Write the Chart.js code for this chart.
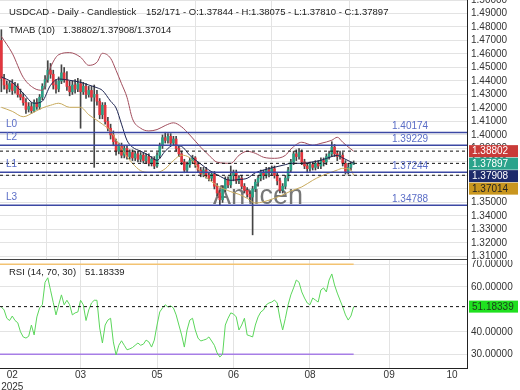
<!DOCTYPE html>
<html>
<head>
<meta charset="utf-8">
<title>USDCAD Daily</title>
<script src="https://cdn.jsdelivr.net/npm/chart.js@4.4.1/dist/chart.umd.min.js"></script>
<style>
  html, body { margin: 0; padding: 0; background: #fff; }
  #wrap { position: relative; width: 520px; height: 390px; overflow: hidden; font-family: "Liberation Sans", Arial, sans-serif; }
  canvas { display: block; position: absolute; left: 0; }
  #mainChart { top: 0; }
  #rsiChart { top: 260px; }
  .lbl { position: absolute; font-size: 9.5px; line-height: 12px; color: #222; white-space: nowrap; }
</style>
</head>
<body>
<div id="wrap">
  <canvas id="mainChart" width="520" height="260"></canvas>
  <canvas id="rsiChart" width="520" height="130"></canvas>
  <div class="lbl" style="left:9px;top:6px">USDCAD - Daily - Candlestick</div>
  <div class="lbl" style="left:146px;top:6px">152/171 - O:1.37844 - H:1.38075 - L:1.37810 - C:1.37897</div>
  <div class="lbl" style="left:9px;top:24px">TMAB (10)</div>
  <div class="lbl" style="left:63px;top:24px">1.38802/1.37908/1.37014</div>
  <div class="lbl" style="left:9px;top:266px">RSI (14, 70, 30)</div>
  <div class="lbl" style="left:85px;top:266px">51.18339</div>
</div>
<script>
// candles, one per slot index (visible part of the series)
const opens = [
  1.4700,1.4420,1.4370,1.4340,1.4380,1.4330,1.4360,1.4300,1.4280,1.4240,
  1.4190,1.4210,1.4180,1.4240,1.4210,1.4280,1.4360,1.4410,1.4480,1.4450,
  1.4370,1.4340,1.4400,1.4460,1.4410,1.4360,1.4320,1.4370,1.4340,1.4380,
  1.4320,1.4360,1.4300,1.4330,1.4280,1.4300,1.4250,1.4150,1.4220,1.4100,
  1.4050,1.4000,1.3950,1.3880,1.3920,1.3850,1.3900,1.3840,1.3870,1.3830,
  1.3860,1.3820,1.3850,1.3810,1.3840,1.3790,1.3820,1.3770,1.3850,1.3920,
  1.3980,1.3960,1.3990,1.3940,1.3970,1.3900,1.3860,1.3800,1.3740,1.3780,
  1.3810,1.3830,1.3780,1.3740,1.3710,1.3740,1.3700,1.3680,1.3710,1.3620,
  1.3570,1.3520,1.3600,1.3670,1.3630,1.3700,1.3720,1.3660,1.3680,1.3620,
  1.3590,1.3560,1.3540,1.3600,1.3650,1.3680,1.3720,1.3700,1.3740,1.3720,
  1.3750,1.3700,1.3660,1.3590,1.3620,1.3680,1.3740,1.3800,1.3860,1.3840,
  1.3870,1.3800,1.3770,1.3750,1.3780,1.3760,1.3790,1.3770,1.3810,1.3800,
  1.3840,1.3860,1.3910,1.3860,1.3840,1.3850,1.3790,1.3730,1.3760,1.37844
];
const highs = [
  1.4780,1.4450,1.4400,1.4400,1.4410,1.4390,1.4380,1.4340,1.4310,1.4270,
  1.4240,1.4240,1.4260,1.4270,1.4300,1.4380,1.4440,1.4550,1.4530,1.4480,
  1.4410,1.4430,1.4520,1.4500,1.4470,1.4400,1.4400,1.4410,1.4420,1.4410,
  1.4390,1.4380,1.4360,1.4360,1.4370,1.4330,1.4270,1.4240,1.4240,1.4130,
  1.4080,1.4030,1.3970,1.3940,1.3940,1.3920,1.3920,1.3890,1.3890,1.3880,
  1.3880,1.3870,1.3870,1.3860,1.3860,1.3840,1.3840,1.3870,1.3940,1.4000,
  1.4020,1.4010,1.4010,1.3990,1.3990,1.3920,1.3880,1.3820,1.3800,1.3830,
  1.3850,1.3840,1.3800,1.3760,1.3760,1.3760,1.3720,1.3730,1.3730,1.3640,
  1.3590,1.3620,1.3690,1.3690,1.3770,1.3740,1.3740,1.3700,1.3700,1.3640,
  1.3610,1.3580,1.3620,1.3670,1.3700,1.3740,1.3740,1.3760,1.3760,1.3770,
  1.3770,1.3720,1.3680,1.3640,1.3700,1.3760,1.3820,1.3880,1.3890,1.3900,
  1.3890,1.3820,1.3790,1.3800,1.3800,1.3810,1.3810,1.3830,1.3830,1.3860,
  1.3880,1.3950,1.3930,1.3880,1.3880,1.3870,1.3810,1.3790,1.3800,1.38075
];
const lows = [
  1.4320,1.4340,1.4310,1.4320,1.4300,1.4310,1.4280,1.4260,1.4220,1.4160,
  1.4170,1.4160,1.4170,1.4190,1.4190,1.4260,1.4340,1.4390,1.4420,1.4340,
  1.4310,1.4320,1.4380,1.4390,1.4330,1.4290,1.4300,1.4310,1.4320,1.4050,
  1.4300,1.4270,1.4280,1.4250,1.3760,1.4220,1.4120,1.4120,1.4080,1.4030,
  1.3970,1.3920,1.3850,1.3860,1.3830,1.3830,1.3820,1.3820,1.3810,1.3810,
  1.3800,1.3800,1.3790,1.3790,1.3770,1.3770,1.3750,1.3760,1.3830,1.3900,
  1.3940,1.3940,1.3920,1.3920,1.3880,1.3840,1.3780,1.3720,1.3720,1.3760,
  1.3790,1.3760,1.3720,1.3690,1.3690,1.3680,1.3660,1.3660,1.3600,1.3550,
  1.3480,1.3500,1.3580,1.3610,1.3610,1.3660,1.3640,1.3640,1.3600,1.3570,
  1.3540,1.3510,1.3260,1.3580,1.3620,1.3660,1.3670,1.3680,1.3690,1.3700,
  1.3680,1.3630,1.3570,1.3570,1.3600,1.3660,1.3720,1.3780,1.3810,1.3820,
  1.3780,1.3750,1.3720,1.3730,1.3740,1.3740,1.3750,1.3750,1.3770,1.3780,
  1.3820,1.3840,1.3840,1.3810,1.3820,1.3770,1.3710,1.3710,1.3740,1.37810
];
const closes = [
  1.4420,1.4370,1.4340,1.4380,1.4330,1.4360,1.4300,1.4280,1.4240,1.4190,
  1.4210,1.4180,1.4240,1.4210,1.4280,1.4360,1.4410,1.4480,1.4450,1.4370,
  1.4340,1.4400,1.4460,1.4410,1.4360,1.4320,1.4370,1.4340,1.4380,1.4320,
  1.4360,1.4300,1.4330,1.4280,1.4300,1.4250,1.4150,1.4220,1.4100,1.4050,
  1.4000,1.3950,1.3880,1.3920,1.3850,1.3900,1.3840,1.3870,1.3830,1.3860,
  1.3820,1.3850,1.3810,1.3840,1.3790,1.3820,1.3770,1.3850,1.3920,1.3980,
  1.3960,1.3990,1.3940,1.3970,1.3900,1.3860,1.3800,1.3740,1.3780,1.3810,
  1.3830,1.3780,1.3740,1.3710,1.3740,1.3700,1.3680,1.3710,1.3620,1.3570,
  1.3520,1.3600,1.3670,1.3630,1.3700,1.3720,1.3660,1.3680,1.3620,1.3590,
  1.3560,1.3540,1.3600,1.3650,1.3680,1.3720,1.3700,1.3740,1.3720,1.3750,
  1.3700,1.3660,1.3590,1.3620,1.3680,1.3740,1.3800,1.3860,1.3840,1.3870,
  1.3800,1.3770,1.3750,1.3780,1.3760,1.3790,1.3770,1.3810,1.3800,1.3840,
  1.3860,1.3910,1.3860,1.3840,1.3850,1.3790,1.3730,1.3760,1.3784,1.37897
];

// TMAB (10) bands, read at these slot indices
const bandIndex = [0,4,8,12,15,18,21,25,29,32,35,37,40,42,44,46,48,51,54,57,60,63,66,69,73,76,79,84,87,90,93,96,100,104,106,110,114,117,121,123,125,128,129];
const bandUpper = [1.4730,1.4605,1.4427,1.4346,1.4331,1.4502,1.4595,1.4610,1.4576,1.4516,1.4539,1.4605,1.4568,1.4479,1.4380,1.4279,1.4120,1.4050,1.4030,1.4040,1.4070,1.4090,1.4060,1.4000,1.3909,1.3850,1.3798,1.3790,1.3849,1.3879,1.3864,1.3835,1.3827,1.3849,1.3895,1.3946,1.3924,1.3938,1.3961,1.3983,1.3946,1.3895,1.38802];
const bandMiddle = [1.4430,1.4390,1.4309,1.4235,1.4250,1.4368,1.4415,1.4405,1.4390,1.4370,1.4350,1.4330,1.4250,1.4200,1.4080,1.3960,1.3910,1.3880,1.3849,1.3812,1.3880,1.3924,1.3915,1.3849,1.3785,1.3740,1.3705,1.3664,1.3670,1.3679,1.3720,1.3740,1.3761,1.3780,1.3790,1.3790,1.3800,1.3812,1.3840,1.3849,1.3830,1.3800,1.37908];
const bandLower = [1.4205,1.4175,1.4135,1.4170,1.4200,1.4220,1.4235,1.4205,1.4205,1.4150,1.4109,1.4080,1.4030,1.3965,1.3900,1.3840,1.3790,1.3735,1.3723,1.3723,1.3750,1.3810,1.3850,1.3830,1.3725,1.3670,1.3625,1.3580,1.3560,1.3531,1.3495,1.3505,1.3531,1.3565,1.3585,1.3615,1.3664,1.3695,1.3725,1.3740,1.3753,1.3740,1.37014];

const rsiValues = [
  51,49.7,46,45,47,45,44,40,37.7,37.2,
  38,43,38.6,46.6,50.6,52,62,64,58.5,53,
  47.5,52,56.4,52,54,52,47.5,48.4,48.8,54,
  52,45,49.7,52.8,54,54,41.7,35,43,45.2,
  46,35.5,29.7,34,36,34,32,32.4,33,34,
  35,34,34.5,36.3,35.5,33.2,36.3,43,48.8,50.6,
  52,51,51.5,50.6,47.5,43,38.6,33.2,40.8,45.2,
  46,40.8,37.2,35.9,36.3,36.7,37.7,35.9,34,30.6,
  28.8,30,43,46,48.4,47.9,46.6,40.8,43,46,
  38.6,38.2,37.7,43,46.6,48.8,49.7,52,52.8,53.2,
  54.1,52.8,46,40.8,46,52,56.4,59.5,63,62,
  57.7,55,52.8,52,55,54.1,53.2,58.6,59.5,57.7,
  63,65.7,60.8,57.2,54.1,51,47.5,45.2,47,51.18339
];
const rsiLast = 51.18339;
const rsiUpperLevel = 70;
const rsiLowerLevel = 30;

const levelNames = ['L0', 'L2', 'L1', 'L3'];
const levelValues = [1.40174, 1.39229, 1.37244, 1.34788];
const guideValues = [1.38802, 1.37897, 1.37014];
const tagLabels = ['1.38802', '1.37897', '1.37908', '1.37014'];
const tagValues = [1.38802, 1.37897, 1.37908, 1.37014];

const monthTicks = [4, 29, 57, 85, 113, 142, 165];
const monthLabels = ['02', '03', '05', '06', '08', '09', '10'];
const yearLabel = '2025';
const priceTicks = [1.31,1.32,1.33,1.34,1.35,1.36,1.37,1.38,1.39,1.40,1.41,1.42,1.43,1.44,1.45,1.46,1.47,1.48,1.49,1.50];
const rsiTicks = [30, 40, 60, 70];
const SLOTS = 171;

const FONT = '"Liberation Sans", Arial, sans-serif';
Chart.defaults.font.family = FONT;
Chart.defaults.font.size = 10;
Chart.defaults.color = '#333';

const X_MIN = -0.5, X_MAX = SLOTS - 0.5;
const lastIdx = closes.length - 1;

function hLine(v, x0, x1) {
    return [{ x: x0, y: v }, { x: x1, y: v }];
}

function monthTickBuilder(axis) {
    axis.ticks = monthTicks.map(v => ({ value: v }));
}

// first and last month ticks carry a label but no grid line
function monthGridColor(ctx) {
    if (!ctx.tick) return '#e3e3e3';
    const v = ctx.tick.value;
    return (v === monthTicks[0] || v === monthTicks[monthTicks.length - 1]) ? 'rgba(0,0,0,0)' : '#e3e3e3';
}

function fixYAxis(axis) {
    axis.width = 53;
    axis.paddingTop = 0;
    axis.paddingBottom = 0;
}

const bandData = vals => bandIndex.map((x, k) => ({ x: x, y: vals[k] }));

const upColor = '#2a9f84';
const downColor = '#e3353d';
const bodyColors = closes.map((c, i) => c >= opens[i] ? upColor : downColor);

// ---------- main price panel ----------
const mainDatasets = [];
levelValues.forEach(v => {
    mainDatasets.push({ type: 'line', data: hLine(v, X_MIN, X_MAX), borderColor: '#3c48a4', borderWidth: 1.5, pointRadius: 0 });
});
guideValues.forEach(v => {
    mainDatasets.push({ type: 'line', data: hLine(v, X_MIN, X_MAX), borderColor: '#111', borderWidth: 1, borderDash: [3, 3], pointRadius: 0 });
});
mainDatasets.push(
    { type: 'line', data: bandData(bandUpper), borderColor: '#a14d5c', borderWidth: 1, pointRadius: 0, tension: 0.4, cubicInterpolationMode: 'monotone' },
    { type: 'line', data: bandData(bandMiddle), borderColor: '#1d2450', borderWidth: 1, pointRadius: 0, tension: 0.4, cubicInterpolationMode: 'monotone' },
    { type: 'line', data: bandData(bandLower), borderColor: '#c8aa5c', borderWidth: 1, pointRadius: 0, tension: 0.4, cubicInterpolationMode: 'monotone' },
    {
        type: 'bar',
        data: opens.map((o, i) => ({ x: i, y: [o, closes[i]] })),
        backgroundColor: bodyColors,
        barThickness: 2,
        minBarLength: 1,
        grouped: false,
        borderWidth: 0
    },
    {
        type: 'bar',
        data: highs.map((h, i) => ({ x: i, y: [lows[i], h] })),
        backgroundColor: '#454545',
        barThickness: 1,
        grouped: false,
        borderWidth: 0
    }
);

const mainOverlay = {
    id: 'mainOverlay',
    beforeDatasetsDraw(chart) {
        const ctx = chart.ctx;
        ctx.save();
        ctx.font = '27px ' + FONT;
        ctx.fillStyle = 'rgba(95,95,95,0.85)';
        ctx.textBaseline = 'alphabetic';
        ctx.fillText('Amicen', 213, 204);
        ctx.restore();
    },
    afterDraw(chart) {
        const { ctx, chartArea, scales } = chart;
        const y = scales.y;
        ctx.save();
        ctx.font = '10px ' + FONT;
        ctx.textBaseline = 'bottom';
        ctx.fillStyle = '#5a6dc6';
        levelValues.forEach((v, k) => {
            const py = y.getPixelForValue(v);
            ctx.fillText(levelNames[k], 6, py - 3);
            ctx.fillText(v.toFixed(5), 392, py - 1);
        });
        // price tags on the axis, pushed down so they do not overlap
        const tagBg = ['#c93b38', '#2aa38b', '#1d2b6b', '#c9961f'];
        const tagFg = ['#fff', '#fff', '#fff', '#222'];
        let prev = -100;
        ctx.textBaseline = 'middle';
        tagValues.forEach((v, k) => {
            const cy = Math.max(y.getPixelForValue(v), prev + 12.5);
            prev = cy;
            ctx.fillStyle = tagBg[k];
            ctx.fillRect(chartArea.right + 2, cy - 6, 49, 12);
            ctx.fillStyle = tagFg[k];
            ctx.fillText(tagLabels[k], chartArea.right + 5, cy + 0.5);
        });
        ctx.restore();
    }
};

const mainChart = new Chart(document.getElementById('mainChart'), {
    type: 'bar',
    data: { datasets: mainDatasets },
    options: {
        responsive: false,
        animation: false,
        events: [],
        layout: { padding: { top: 0, left: 0, right: 0, bottom: 1 }, autoPadding: false },
        plugins: { legend: { display: false }, tooltip: { enabled: false } },
        scales: {
            x: {
                type: 'linear',
                min: X_MIN,
                max: X_MAX,
                offset: false,
                afterBuildTicks: monthTickBuilder,
                ticks: { display: false, autoSkip: false },
                grid: { color: monthGridColor, drawTicks: false },
                border: { display: true, color: '#444' },
                afterFit(axis) { axis.height = 0; axis.paddingLeft = 0; axis.paddingRight = 0; }
            },
            y: {
                position: 'right',
                min: 1.3081,
                max: 1.5,
                afterBuildTicks(axis) { axis.ticks = priceTicks.map(v => ({ value: v })); },
                ticks: { autoSkip: false, padding: 4, color: '#333', callback: v => v.toFixed(5) },
                grid: { color: '#e3e3e3', drawTicks: false },
                border: { color: '#222' },
                afterFit: fixYAxis
            }
        }
    },
    plugins: [mainOverlay]
});

// ---------- RSI panel ----------
const rsiOverlay = {
    id: 'rsiOverlay',
    afterDraw(chart) {
        const { ctx, chartArea, scales } = chart;
        const cy = scales.y.getPixelForValue(rsiLast);
        ctx.save();
        ctx.fillStyle = '#1fe01f';
        ctx.fillRect(chartArea.right + 2, cy - 6, 49, 12);
        ctx.fillStyle = '#1b3b1b';
        ctx.font = '10px ' + FONT;
        ctx.textBaseline = 'middle';
        ctx.fillText(rsiLast.toFixed(5), chartArea.right + 5, cy + 0.5);
        ctx.restore();
    }
};

const rsiChart = new Chart(document.getElementById('rsiChart'), {
    type: 'line',
    data: {
        datasets: [
            { data: hLine(rsiLast, X_MIN, X_MAX), borderColor: '#111', borderWidth: 1, borderDash: [3, 3], pointRadius: 0 },
            { data: rsiValues.map((v, i) => ({ x: i, y: v })), borderColor: '#5bd65b', borderWidth: 1, pointRadius: 0, tension: 0 },
            { data: hLine(rsiUpperLevel, X_MIN, lastIdx), borderColor: '#f3c372', borderWidth: 1.5, pointRadius: 0 },
            { data: hLine(rsiLowerLevel, X_MIN, lastIdx), borderColor: '#a77ee6', borderWidth: 1.5, pointRadius: 0 }
        ]
    },
    options: {
        responsive: false,
        animation: false,
        events: [],
        layout: { padding: 0, autoPadding: false },
        plugins: { legend: { display: false }, tooltip: { enabled: false } },
        scales: {
            x: {
                type: 'linear',
                min: X_MIN,
                max: X_MAX,
                afterBuildTicks: monthTickBuilder,
                ticks: {
                    autoSkip: false,
                    maxRotation: 0,
                    padding: 1,
                    color: '#333',
                    callback(v) {
                        const k = monthTicks.indexOf(v);
                        if (k < 0) return '';
                        return k === 0 ? [monthLabels[k], yearLabel] : monthLabels[k];
                    }
                },
                grid: { color: monthGridColor, drawTicks: false },
                border: { color: '#222' },
                afterFit(axis) { axis.height = 22; axis.paddingLeft = 0; axis.paddingRight = 0; }
            },
            y: {
                position: 'right',
                min: 23.9,
                max: 71.9,
                afterBuildTicks(axis) { axis.ticks = rsiTicks.map(v => ({ value: v })); },
                ticks: { autoSkip: false, padding: 4, color: '#333', callback: v => v.toFixed(5) },
                grid: { color: '#e3e3e3', drawTicks: false },
                border: { color: '#222' },
                afterFit: fixYAxis
            }
        }
    },
    plugins: [rsiOverlay]
});
</script>
</body>
</html>
